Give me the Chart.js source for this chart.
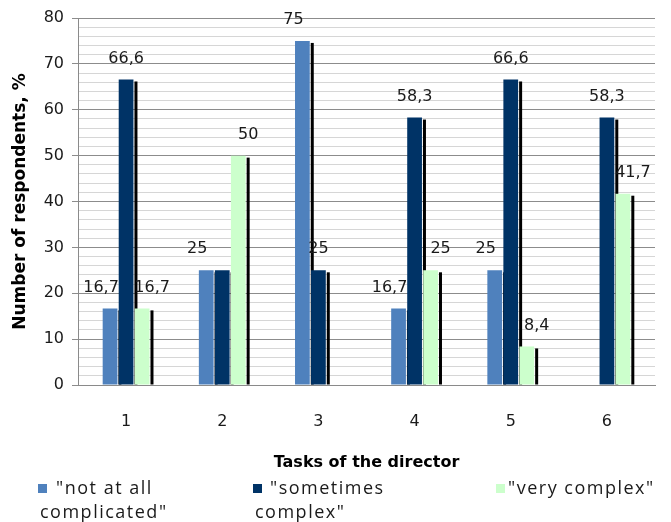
<!DOCTYPE html>
<html>
<head>
<meta charset="utf-8">
<script src="https://cdn.jsdelivr.net/npm/chart.js@4.4.1/dist/chart.umd.min.js"></script>
<style>
  body { margin: 0; background: #fff; }
</style>
</head>
<body>
<canvas id="chart" width="671" height="522"></canvas>
<script>
const tasks = ["1", "2", "3", "4", "5", "6"];
const seriesNames = [['"not at all', 'complicated"'], ['"sometimes', 'complex"'], ['"very complex"']];
const notAtAll = [16.7, 25, 75, 16.7, 25, 0];
const sometimes = [66.6, 25, 25, 58.3, 66.6, 58.3];
const veryComplex = [16.7, 50, 0, 25, 8.4, 41.7];
const yTicks = [0, 10, 20, 30, 40, 50, 60, 70, 80];
// labels that the original chart leaves out: [series, task]
const hiddenLabels = [[1, 1]];

const colors = ["#4f81bd", "#003366", "#ccffcc"];
const labelShift = [-9, 0, 10];

// black "3d" edge on the right of each bar, drawn before bars so neighbours cover it
const barShadow = {
    id: "barShadow",
    beforeDatasetsDraw(chart) {
        const ctx = chart.ctx;
        ctx.save();
        ctx.fillStyle = "#000";
        chart.data.datasets.forEach((ds, i) => {
            chart.getDatasetMeta(i).data.forEach((bar, j) => {
                if (!ds.data[j]) return;
                const right = bar.x + bar.width / 2;
                ctx.fillRect(right + 1, bar.y + 2, 3, bar.base - bar.y - 2);
            });
        });
        ctx.restore();
    }
};

const valueLabels = {
    id: "valueLabels",
    afterDatasetsDraw(chart) {
        const ctx = chart.ctx;
        ctx.save();
        ctx.font = "16px 'DejaVu Sans'";
        ctx.fillStyle = "#1a1a1a";
        ctx.textAlign = "center";
        ctx.textBaseline = "middle";
        chart.data.datasets.forEach((ds, i) => {
            chart.getDatasetMeta(i).data.forEach((bar, j) => {
                const v = ds.data[j];
                if (!v) return;
                if (hiddenLabels.some(h => h[0] === i && h[1] === j)) return;
                ctx.fillText(String(v).replace(".", ","), bar.x + labelShift[i], bar.y - 21);
            });
        });
        ctx.restore();
    }
};

// legend with wrapped labels, like the original
const wrapLegend = {
    id: "wrapLegend",
    afterDraw(chart) {
        const ctx = chart.ctx;
        const items = [
            { box: 38, text: 56, wrap: 40 },
            { box: 253, text: 270, wrap: 255 },
            { box: 496, text: 508, wrap: 508 }
        ];
        ctx.save();
        ctx.font = "18px 'Open Sans'";
        ctx.letterSpacing = "1.5px";
        ctx.fillStyle = "#1a1a1a";
        ctx.textBaseline = "middle";
        items.forEach((it, i) => {
            ctx.fillStyle = colors[i];
            ctx.fillRect(it.box, 484, 9, 9);
            ctx.fillStyle = "#1a1a1a";
            seriesNames[i].forEach((line, k) => {
                ctx.fillText(line, k === 0 ? it.text : it.wrap, 489 + k * 24);
            });
        });
        ctx.restore();
    }
};

new Chart(document.getElementById("chart"), {
    type: "bar",
    data: {
        labels: tasks,
        datasets: [
            { label: seriesNames[0].join(" "), data: notAtAll, backgroundColor: colors[0] },
            { label: seriesNames[1].join(" "), data: sometimes, backgroundColor: colors[1] },
            { label: seriesNames[2].join(" "), data: veryComplex, backgroundColor: colors[2] }
        ]
    },
    options: {
        responsive: false,
        animation: false,
        layout: { padding: { top: 18, right: 16, bottom: 42, left: 0 } },
        datasets: {
            bar: { categoryPercentage: 0.5, barPercentage: 0.92, borderWidth: 0 }
        },
        scales: {
            x: {
                grid: { display: false, drawTicks: false },
                border: { color: "#8a8a8a" },
                ticks: { color: "#1a1a1a", font: { family: "DejaVu Sans", size: 16 }, padding: 27 },
                title: {
                    display: true,
                    text: "Tasks of the director",
                    color: "#000",
                    font: { family: "DejaVu Sans", size: 16, weight: "bold" },
                    padding: { top: 0, bottom: 8 }
                },
                afterFit(scale) { scale.height = 95; }
            },
            y: {
                min: yTicks[0],
                max: yTicks[yTicks.length - 1],
                ticks: {
                    stepSize: 2,
                    autoSkip: false,
                    color: "#1a1a1a",
                    font: { family: "DejaVu Sans", size: 16 },
                    padding: 8,
                    callback: v => (yTicks.includes(v) ? v : "")
                },
                grid: {
                    color: c => (c.tick && c.tick.value % 10 === 0 ? "#8c8c8c" : "#d6d6d6"),
                    tickColor: c => (c.tick && c.tick.value % 10 === 0 ? "#8c8c8c" : "rgba(0,0,0,0)"),
                    tickLength: 6
                },
                border: { color: "#8a8a8a" },
                title: {
                    display: true,
                    text: "Number of respondents, %",
                    color: "#000",
                    font: { family: "DejaVu Sans", size: 17, weight: "bold" },
                    padding: { top: 10, bottom: 0 }
                },
                afterFit(scale) { scale.width = 78; }
            }
        },
        plugins: {
            legend: { display: false },
            tooltip: { enabled: false }
        }
    },
    plugins: [barShadow, valueLabels, wrapLegend]
});
</script>
</body>
</html>
